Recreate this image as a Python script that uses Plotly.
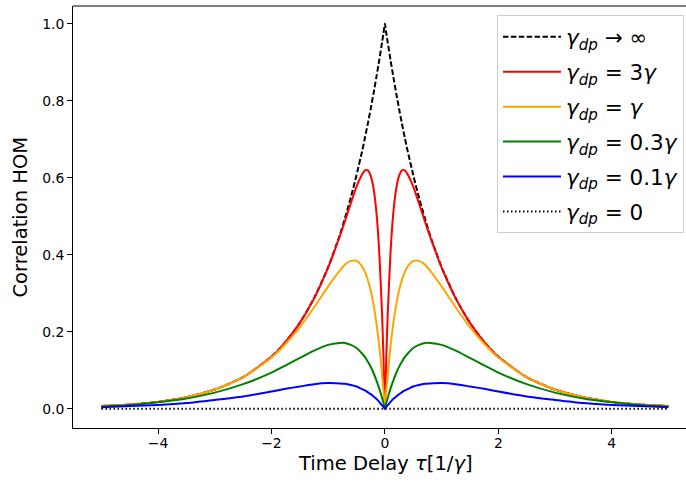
import plotly.graph_objects as go

tau = [-5.0, -4.5, -4.0, -3.5, -3.0, -2.5, -2.0, -1.75, -1.5, -1.25, -1.0, -0.8, -0.7, -0.6, -0.5,
       -0.4, -0.35, -0.3, -0.25, -0.2, -0.15, -0.1, -0.05, -0.025, 0.0,
       0.025, 0.05, 0.1, 0.15, 0.2, 0.25, 0.3, 0.35, 0.4, 0.5, 0.6, 0.7, 0.8, 1.0,
       1.25, 1.5, 1.75, 2.0, 2.5, 3.0, 3.5, 4.0, 4.5, 5.0]

g_inf = [0.007, 0.011, 0.018, 0.030, 0.050, 0.082, 0.135, 0.174, 0.223, 0.287, 0.368, 0.449, 0.497, 0.549, 0.607,
         0.670, 0.705, 0.741, 0.779, 0.819, 0.861, 0.905, 0.951, 0.975, 1.0,
         0.975, 0.951, 0.905, 0.861, 0.819, 0.779, 0.741, 0.705, 0.670, 0.607, 0.549, 0.497, 0.449, 0.368,
         0.287, 0.223, 0.174, 0.135, 0.082, 0.050, 0.030, 0.018, 0.011, 0.007]

g_3 = [0.007, 0.011, 0.018, 0.030, 0.050, 0.082, 0.135, 0.174, 0.223, 0.286, 0.367, 0.446, 0.489, 0.534, 0.577,
       0.609, 0.619, 0.619, 0.605, 0.572, 0.511, 0.408, 0.246, 0.136, 0.0,
       0.136, 0.246, 0.408, 0.511, 0.572, 0.605, 0.619, 0.619, 0.609, 0.577, 0.534, 0.489, 0.446, 0.367,
       0.286, 0.223, 0.174, 0.135, 0.082, 0.050, 0.030, 0.018, 0.011, 0.007]

g_1 = [0.007, 0.011, 0.018, 0.030, 0.050, 0.082, 0.133, 0.169, 0.212, 0.263, 0.318, 0.358, 0.375, 0.384, 0.384,
       0.369, 0.355, 0.334, 0.307, 0.270, 0.223, 0.164, 0.090, 0.047, 0.0,
       0.047, 0.090, 0.164, 0.223, 0.270, 0.307, 0.334, 0.355, 0.369, 0.384, 0.384, 0.375, 0.358, 0.318,
       0.263, 0.212, 0.169, 0.133, 0.082, 0.050, 0.030, 0.018, 0.011, 0.007]

g_03 = [0.006, 0.010, 0.017, 0.027, 0.042, 0.064, 0.094, 0.113, 0.132, 0.151, 0.166, 0.171, 0.171, 0.166, 0.158,
        0.143, 0.134, 0.122, 0.109, 0.093, 0.074, 0.053, 0.028, 0.015, 0.0,
        0.015, 0.028, 0.053, 0.074, 0.093, 0.109, 0.122, 0.134, 0.143, 0.158, 0.166, 0.171, 0.171, 0.166,
        0.151, 0.132, 0.113, 0.094, 0.064, 0.042, 0.027, 0.017, 0.010, 0.006]

g_01 = [0.004, 0.007, 0.010, 0.015, 0.023, 0.032, 0.045, 0.052, 0.058, 0.064, 0.067, 0.066, 0.065, 0.062, 0.058,
        0.051, 0.048, 0.043, 0.038, 0.032, 0.026, 0.018, 0.009, 0.005, 0.0,
        0.005, 0.009, 0.018, 0.026, 0.032, 0.038, 0.043, 0.048, 0.051, 0.058, 0.062, 0.065, 0.066, 0.067,
        0.064, 0.058, 0.052, 0.045, 0.032, 0.023, 0.015, 0.010, 0.007, 0.004]

g_0 = [0.0] * len(tau)

labels = [
    "<i>γ</i><sub><i>dp</i></sub> → ∞",
    "<i>γ</i><sub><i>dp</i></sub> = 3<i>γ</i>",
    "<i>γ</i><sub><i>dp</i></sub> = <i>γ</i>",
    "<i>γ</i><sub><i>dp</i></sub> = 0.3<i>γ</i>",
    "<i>γ</i><sub><i>dp</i></sub> = 0.1<i>γ</i>",
    "<i>γ</i><sub><i>dp</i></sub> = 0",
]
series = [g_inf, g_3, g_1, g_03, g_01, g_0]
colors = ["black", "red", "orange", "green", "blue", "black"]
dashes = ["5.5px,2.4px", "solid", "solid", "solid", "solid", "1.5px,2.5px"]

FONT = "DejaVu Sans"

fig = go.Figure()
for i, (lab, ys, c, d) in enumerate(zip(labels, series, colors, dashes)):
    fig.add_trace(go.Scatter(
        x=tau, y=ys, mode="lines", name=lab, legendgroup=f"g{i}",
        line=dict(color=c, width=2, dash=d, shape="spline", smoothing=0.6),
    ))

fig.update_layout(
    width=686, height=482,
    margin=dict(l=73, r=0, t=6, b=54),
    paper_bgcolor="white", plot_bgcolor="white",
    font=dict(family=FONT, color="black"),
    showlegend=True,
    legend=dict(
        x=0.9967, xanchor="right", y=0.978, yanchor="top",
        bgcolor="rgba(255,255,255,0.8)", bordercolor="#cccccc", borderwidth=1,
        font=dict(size=21.5, family=FONT),
        tracegroupgap=4, itemwidth=58,
    ),
    xaxis=dict(
        range=[-5.5, 5.31], tickvals=[-4, -2, 0, 2, 4],
        showgrid=False, zeroline=False, showline=True, linecolor="black", linewidth=1,
        ticks="outside", ticklen=5, tickwidth=1, tickcolor="black", ticklabelstandoff=-3,
        tickfont=dict(size=13.9, family=FONT, color="black"),
    ),
    yaxis=dict(
        range=[-0.0498, 1.0458], tickvals=[0, 0.2, 0.4, 0.6, 0.8, 1.0], tickformat=".1f",
        showgrid=False, zeroline=False, showline=True, linecolor="black", linewidth=1,
        ticks="outside", ticklen=5, tickwidth=1, tickcolor="black",
        tickfont=dict(size=13.9, family=FONT, color="black"),
    ),
    shapes=[dict(type="line", xref="paper", yref="paper", x0=0, x1=1, y0=1, y1=1,
                 line=dict(color="black", width=1))],
    annotations=[
        dict(text="Time Delay <i>τ</i>[1/<i>γ</i>]", xref="paper", yref="paper",
             x=0.509, y=0, xanchor="center", yanchor="top", yshift=-22, showarrow=False,
             font=dict(size=19.5, family=FONT, color="black")),
        dict(text="Correlation HOM", xref="paper", yref="paper",
             x=0, y=0.5, xanchor="right", yanchor="middle", xshift=-40, textangle=-90,
             showarrow=False, font=dict(size=19.5, family=FONT, color="black")),
    ],
)

fig.write_html("out.html")
